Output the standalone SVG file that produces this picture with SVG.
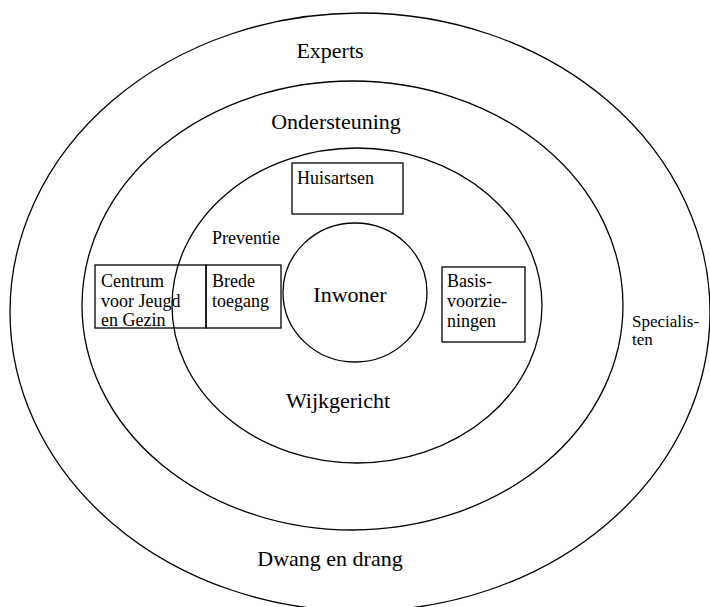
<svg xmlns="http://www.w3.org/2000/svg" width="710" height="607" viewBox="0 0 710 607">
  <style>
    .ring { fill: none; stroke: #000; stroke-width: 1.3; }
    .box { fill: none; stroke: #000; stroke-width: 1.3; }
    text { font-family: "Liberation Serif", "DejaVu Serif", "Times New Roman", serif; fill: #000; }
    .big { font-size: 22px; }
    .small { font-size: 18px; }
    .side { font-size: 17px; }
  </style>
  <rect width="710" height="607" fill="#fff"/>

  <g id="ring-experts">
    <ellipse class="ring" cx="360" cy="312" rx="350" ry="299"/>
    <text class="big" x="330" y="58" text-anchor="middle">Experts</text>
    <text class="big" x="330" y="566" text-anchor="middle">Dwang en drang</text>
    <text class="side" x="632" y="327">Specialis-</text>
    <text class="side" x="632" y="345">ten</text>
  </g>

  <g id="ring-ondersteuning">
    <ellipse class="ring" cx="352.5" cy="305.5" rx="270.5" ry="224.5"/>
    <text class="big" x="336" y="129" text-anchor="middle">Ondersteuning</text>
  </g>

  <g id="ring-wijkgericht">
    <ellipse class="ring" cx="357" cy="305.5" rx="185" ry="157.5"/>
    <text class="small" x="212" y="244">Preventie</text>
    <text class="big" x="338" y="408" text-anchor="middle">Wijkgericht</text>
  </g>

  <g id="inwoner">
    <ellipse class="ring" cx="355" cy="292.5" rx="72" ry="69.5"/>
    <text class="big" x="350" y="302" text-anchor="middle">Inwoner</text>
  </g>

  <g id="huisartsen">
    <rect class="box" x="292" y="163" width="111" height="51"/>
    <text class="small" x="297" y="184">Huisartsen</text>
  </g>

  <g id="centrum">
    <rect class="box" x="95" y="265" width="111" height="63"/>
    <text class="small" x="101" y="287">Centrum</text>
    <text class="small" x="101" y="307">voor Jeugd</text>
    <text class="small" x="101" y="326">en Gezin</text>
  </g>

  <g id="brede-toegang">
    <rect class="box" x="206" y="265" width="75" height="63"/>
    <text class="small" x="212" y="287">Brede</text>
    <text class="small" x="212" y="307">toegang</text>
  </g>

  <g id="basisvoorzieningen">
    <rect class="box" x="442" y="267" width="83" height="75"/>
    <text class="small" x="447" y="287">Basis-</text>
    <text class="small" x="447" y="307">voorzie-</text>
    <text class="small" x="447" y="327">ningen</text>
  </g>

  <g id="connectors"/>
</svg>
